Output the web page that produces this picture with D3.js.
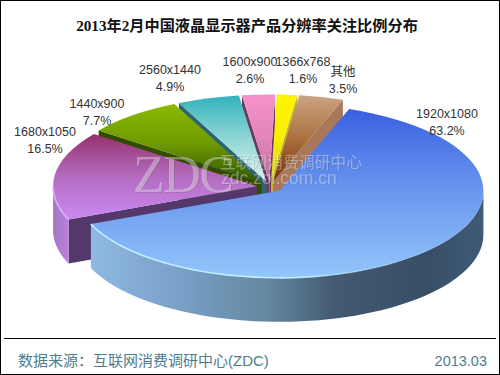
<!DOCTYPE html>
<html>
<head>
<meta charset="utf-8">
<script src="https://cdn.jsdelivr.net/npm/d3@7"></script>
<style>
  html, body { margin: 0; padding: 0; background: #fff; }
  svg { display: block; }
  text { font-family: "Liberation Sans", "Noto Sans CJK SC", sans-serif; }
</style>
</head>
<body>
<script>
const categories = ['1920x1080', '1680x1050', '1440x900', '2560x1440', '1600x900', '1366x768', '其他']
const percents = [63.2, 16.5, 7.7, 4.9, 2.6, 1.6, 3.5]

// top face gradient, top to bottom
const topColors = [
  ['#3a60e2', '#6c98ee', '#92c6fb'],
  ['#95316c', '#b46cc0', '#c98af2'],
  ['#8aba00', '#6f9a00', '#2f5500'],
  ['#33b2bb', '#8fd6d6', '#dcf2ee'],
  ['#f592ca', '#e384bb', '#b9739b'],
  ['#fff400', '#fbee00', '#d8cc10'],
  ['#caa382', '#ac703f', '#742f0a']
]
const wallColors = ['#3f566f', '#54386b', '#334a00', '#2c6570', '#6b3a5e', '#bfb23a', '#a9785a']
const rimColors = ['#c4efff', '#dfaefa', null, null, null, null, null]

// label centres in page pixels, same order as categories
const labelX = [447, 45, 97, 170, 250, 303, 343]
const labelY = [113, 131, 103, 69, 61, 61, 71]

const width = 500
const height = 375
const cx = 270
const cy = 187
const rx = 204
const ry = 87
const depth = 44
const explode = 13
const tilt = ry / rx
const startAngle = 20 * Math.PI / 180

const svg = d3.select('body').append('svg')
  .attr('width', width)
  .attr('height', height)
const defs = svg.append('defs')

svg.append('rect')
  .attr('x', 0.5).attr('y', 0.5)
  .attr('width', width - 1).attr('height', height - 1)
  .attr('fill', '#fff').attr('stroke', '#000')

const pie = d3.pie().sort(null)
  .startAngle(startAngle)
  .endAngle(startAngle + 2 * Math.PI)
const slices = pie(percents).map((d, i) => {
  const mid = (d.startAngle + d.endAngle) / 2
  return {
    ...d, i,
    mid,
    ox: cx + explode * Math.sin(mid),
    oy: cy - explode * Math.cos(mid) * tilt
  }
})

const arc = d3.arc().innerRadius(0).outerRadius(rx)
const ex = (d, a) => d.ox + rx * Math.sin(a)
const ey = (d, a) => d.oy - ry * Math.cos(a)

topColors.forEach((c, i) => {
  const g = defs.append('linearGradient').attr('id', 'top' + i)
    .attr('x1', 0).attr('y1', 0).attr('x2', 0).attr('y2', 1)
  c.forEach((col, k) => g.append('stop').attr('offset', k / (c.length - 1)).attr('stop-color', col))
})

const blueWall = defs.append('linearGradient').attr('id', 'wall0')
  .attr('x1', 0).attr('y1', 0).attr('x2', 1).attr('y2', 0)
;[[0, '#8fb8e2'], [0.2, '#7ba3cc'], [0.45, '#64889f'], [0.62, '#425a72'], [0.85, '#384e66'], [1, '#3f5a78']]
  .forEach((s) => blueWall.append('stop').attr('offset', s[0]).attr('stop-color', s[1]))
const purpleWall = defs.append('linearGradient').attr('id', 'wall1')
  .attr('x1', 0).attr('y1', 0).attr('x2', 1).attr('y2', 0)
;[[0, '#a477c4'], [1, '#bb80e0']]
  .forEach((s) => purpleWall.append('stop').attr('offset', s[0]).attr('stop-color', s[1]))
const rimFade = defs.append('linearGradient').attr('id', 'rimFade')
  .attr('x1', 0).attr('y1', 0).attr('x2', 1).attr('y2', 0)
;[[0, '#fff', 1], [0.55, '#fff', 1], [0.8, '#fff', 0.1], [1, '#fff', 0]]
  .forEach((s) => rimFade.append('stop').attr('offset', s[0]).attr('stop-color', s[1]).attr('stop-opacity', s[2]))
defs.append('mask').attr('id', 'rimMask').attr('maskUnits', 'userSpaceOnUse')
  .attr('x', 0).attr('y', 0).attr('width', width).attr('height', height)
  .append('rect').attr('x', 40).attr('y', 0).attr('width', 450).attr('height', height)
  .attr('fill', 'url(#rimFade)')

// back slices first so the nearer ones paint over them
const order = slices.slice().sort((a, b) => d3.descending(Math.cos(a.mid), Math.cos(b.mid)))

const wallArea = d3.area()
  .x((p) => p[0]).y0((p) => p[1]).y1((p) => p[1] + depth)

order.forEach((d) => {
  const g = svg.append('g')

  // radial walls, only the ones turned to the viewer
  const walls = []
  if (Math.sin(d.startAngle) < 0) walls.push(d.startAngle)
  if (Math.sin(d.endAngle) > 0) walls.push(d.endAngle)
  walls.forEach((a) => {
    const x1 = ex(d, a)
    const y1 = ey(d, a)
    g.append('path')
      .attr('d', d3.line()([[d.ox, d.oy], [x1, y1], [x1, y1 + depth], [d.ox, d.oy + depth]]) + 'Z')
      .attr('fill', wallColors[d.i])
  })

  // outer wall on the front half of the ellipse
  const from = Math.max(d.startAngle, Math.PI / 2)
  const to = Math.min(d.endAngle, 3 * Math.PI / 2)
  if (from < to) {
    const pts = d3.range(0, 61).map((k) => {
      const a = from + (to - from) * k / 60
      return [ex(d, a), ey(d, a)]
    })
    g.append('path')
      .attr('d', wallArea(pts))
      .attr('fill', d.i < 2 ? 'url(#wall' + d.i + ')' : wallColors[d.i])
    if (rimColors[d.i]) d.rim = pts
  }

  g.append('path')
    .attr('d', arc(d))
    .attr('transform', `translate(${d.ox},${d.oy}) scale(1,${tilt})`)
    .attr('fill', 'url(#top' + d.i + ')')

  if (d.rim) {
    g.append('path')
      .attr('d', d3.line()(d.rim))
      .attr('fill', 'none')
      .attr('stroke', rimColors[d.i])
      .attr('stroke-width', 1.6)
      .attr('mask', 'url(#rimMask)')
  }
})

// watermark
const mark = svg.append('g').attr('pointer-events', 'none')
const markText = (txt, x, y, size, family, spacing) => {
  mark.append('text').text(txt)
    .attr('x', x + 1).attr('y', y + 1)
    .attr('font-size', size).style('font-family', family)
    .attr('letter-spacing', spacing)
    .attr('fill', '#555').attr('opacity', 0.18)
  mark.append('text').text(txt)
    .attr('x', x).attr('y', y)
    .attr('font-size', size).style('font-family', family)
    .attr('letter-spacing', spacing)
    .attr('fill', '#fff').attr('opacity', 0.36)
}
markText('ZDC', 133, 192, 52, '"Liberation Serif", serif', -1.5)
markText('互联网消费调研中心', 220, 168, 15.5, '"Noto Sans CJK SC", sans-serif', 0.3)
markText('zdc.zol.com.cn', 221, 184, 17.5, '"Liberation Sans", sans-serif', 0)

svg.append('text')
  .text('2013年2月中国液晶显示器产品分辨率关注比例分布')
  .attr('x', 247).attr('y', 31)
  .attr('text-anchor', 'middle')
  .attr('font-size', 15.2).attr('font-weight', 'bold')
  .attr('fill', '#111')
  .style('font-family', '"Liberation Serif", "Noto Sans CJK SC", serif')

const labels = svg.append('g')
  .attr('text-anchor', 'middle')
  .attr('font-size', 12.5)
  .attr('fill', '#333')
categories.forEach((name, i) => {
  labels.append('text').text(name)
    .attr('x', labelX[i]).attr('y', labelY[i] + 4.5)
  labels.append('text').text(d3.format('.1f')(percents[i]) + '%')
    .attr('x', labelX[i]).attr('y', labelY[i] + 21.5)
})

svg.append('line')
  .attr('x1', 4).attr('x2', 496)
  .attr('y1', 338.5).attr('y2', 338.5)
  .attr('stroke', '#000')

svg.append('text')
  .text('数据来源：互联网消费调研中心(ZDC)')
  .attr('x', 18).attr('y', 365.5)
  .attr('font-size', 15)
  .attr('fill', '#4f7c8e')
svg.append('text')
  .text('2013.03')
  .attr('x', 487).attr('y', 365.5)
  .attr('text-anchor', 'end')
  .attr('font-size', 14.5)
  .attr('fill', '#4f7c8e')
</script>
</body>
</html>
